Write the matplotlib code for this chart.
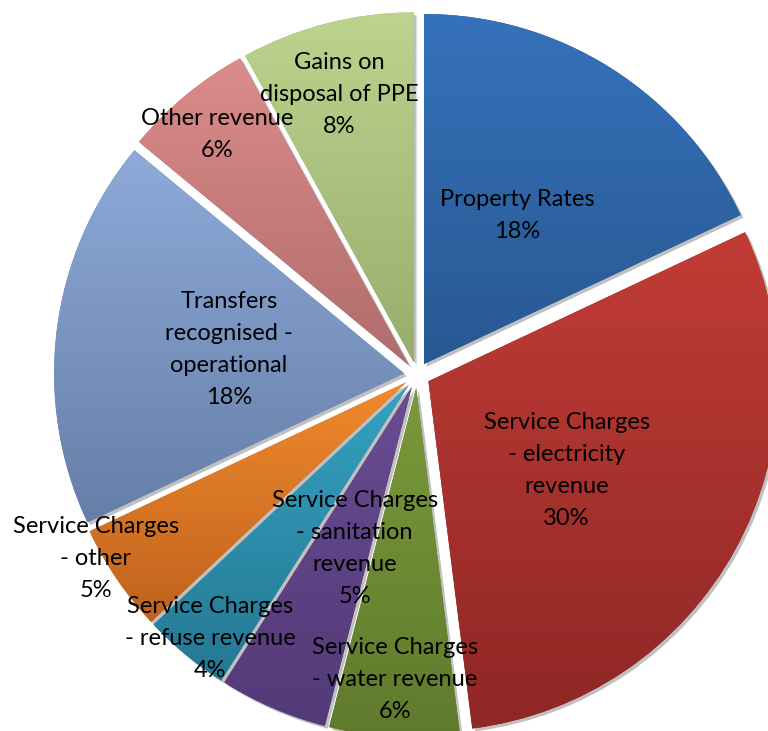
import numpy as np
import matplotlib.pyplot as plt
import matplotlib.patheffects as pe
from matplotlib.colors import to_rgb

labels = ["Property Rates", "Service Charges\n- electricity\nrevenue",
          "Service Charges\n- water revenue", "Service Charges\n- sanitation\nrevenue",
          "Service Charges\n- refuse revenue", "Service Charges\n- other",
          "Transfers\nrecognised -\noperational", "Other revenue",
          "Gains on\ndisposal of PPE"]
shares = [18, 30, 6, 5, 4, 5, 18, 6, 8]

# top / bottom colour of each slice's vertical gradient
top_colors = ["#3672bb", "#c23c36", "#7a9a3a", "#6a4c92", "#34a2c2",
              "#f08a2c", "#8eaad9", "#dc8c8a", "#bcd48e"]
bottom_colors = ["#275892", "#8e2725", "#5f7a2c", "#533a78", "#257893",
                 "#c0621e", "#667fa8", "#b06c6c", "#98ad6c"]
# label placement: fraction of the radius and angle nudge (degrees) from the slice middle
label_dist = [0.50, 0.47, 0.836, 0.49, 0.92, 1.02, 0.505, 0.856, 0.794]
label_turn = [0.2, -4.0, -0.6, 3.9, 1.6, -4.6, -0.5, 0.2, 1.1]

fig = plt.figure(figsize=(7.68, 7.31), dpi=100)
ax = fig.add_axes([0, 0, 1, 1])

R = 350
cx, cy = 417, 356
wedges, _ = ax.pie(shares, startangle=90, counterclock=False, radius=R,
                   center=(cx, cy), explode=[13] * len(shares),
                   wedgeprops=dict(linewidth=0))

for i, w in enumerate(wedges):
    w.set_facecolor(bottom_colors[i])
    w.set_path_effects([pe.SimplePatchShadow(offset=(2, -2), shadow_rgbFace="0.3", alpha=0.35),
                        pe.Normal()])
    # vertical gradient over the slice, clipped to its outline
    verts = w.get_path().vertices
    x0, y0 = verts.min(axis=0)
    x1, y1 = verts.max(axis=0)
    grad = np.linspace(to_rgb(top_colors[i]), to_rgb(bottom_colors[i]), 256)[:, None, :]
    im = ax.imshow(grad, extent=(x0, x1, y0, y1), origin="upper", aspect="auto",
                   zorder=w.get_zorder() + 0.5, interpolation="bilinear")
    im.set_clip_path(w)

    ang = np.deg2rad((w.theta1 + w.theta2) / 2 + label_turn[i])
    wx, wy = w.center
    ax.text(wx + label_dist[i] * R * np.cos(ang), wy + label_dist[i] * R * np.sin(ang),
            f"{labels[i]}\n{shares[i]}%",
            ha="center", va="center", fontsize=17, family="Lato",
            linespacing=1.65, zorder=10)

ax.set_xlim(0, 768)
ax.set_ylim(0, 731)
ax.set_aspect("equal")
ax.axis("off")

fig.savefig("out.png", dpi=100)
